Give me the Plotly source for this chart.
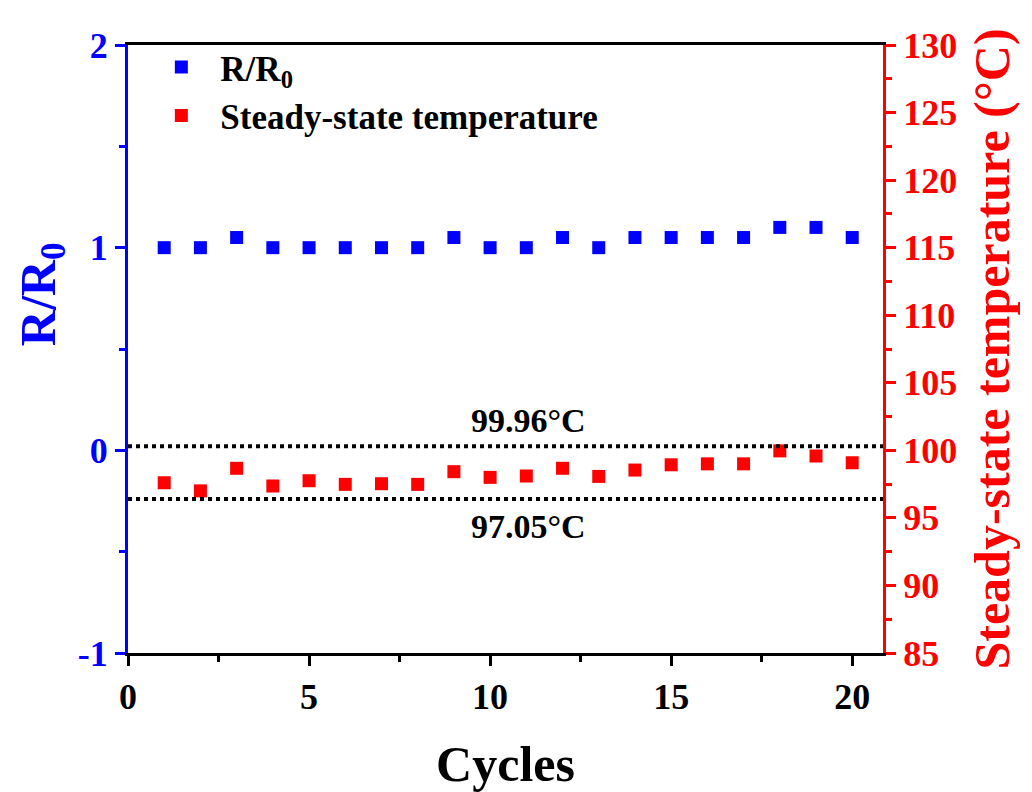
import plotly.graph_objects as go

cycles = list(range(1, 21))
r_ratio = [1.0, 1.0, 1.05, 1.0, 1.0, 1.0, 1.0, 1.0, 1.05, 1.0,
           1.0, 1.05, 1.0, 1.05, 1.05, 1.05, 1.05, 1.1, 1.1, 1.05]
temperature = [97.6, 97.0, 98.67, 97.36, 97.75, 97.48, 97.53, 97.48, 98.42, 98.0,
               98.1, 98.67, 98.07, 98.54, 98.93, 99.0, 99.0, 99.96, 99.58, 99.08]
line_levels = [100.3, 96.4]
line_labels = ["99.96°C", "97.05°C"]
label_pos_y = [102.2, 94.4]
left_ticks = [-1, 0, 1, 2]
left_tick_text = ["-1", "0", "1", "2"]

FONT = "Liberation Serif"
BLUE = "#0000FF"
RED = "#FF0000"

fig = go.Figure()
fig.add_trace(go.Scatter(x=cycles, y=r_ratio, mode="markers", name="R/R<sub>0</sub>",
                         marker=dict(symbol="square", size=13, color=BLUE), yaxis="y"))
fig.add_trace(go.Scatter(x=cycles, y=temperature, mode="markers", name="Steady-state temperature",
                         marker=dict(symbol="square", size=13, color=RED), yaxis="y2"))

for lv in line_levels:
    fig.add_shape(type="line", xref="paper", x0=0, x1=1, yref="y2", y0=lv, y1=lv,
                  line=dict(color="black", width=4, dash="dot"))
for txt, ly in zip(line_labels, label_pos_y):
    fig.add_annotation(x=11.05, y=ly, xref="x", yref="y2", text=txt, showarrow=False,
                       font=dict(family=FONT, size=34, color="black", weight="bold"))

# left axis title placed as rotated text (offset upward as in the reference)
fig.add_annotation(xref="paper", yref="paper", x=-0.114, y=0.59, text="R/R<sub>0</sub>",
                   textangle=-90, showarrow=False, xanchor="center", yanchor="middle",
                   font=dict(family=FONT, size=50, color=BLUE, weight="bold"))

fig.update_layout(
    width=1032, height=792,
    margin=dict(l=120, r=157, t=37, b=147),
    plot_bgcolor="white", paper_bgcolor="white",
    showlegend=True,
    legend=dict(x=0.019, y=1.012, xanchor="left", yanchor="top", bgcolor="rgba(0,0,0,0)",
                font=dict(family=FONT, size=35, color="black", weight="bold"),
                itemwidth=68, tracegroupgap=0),
    xaxis=dict(range=[0, 20.85], dtick=5, tick0=0, showgrid=False, zeroline=False,
               showline=True, linecolor="black", linewidth=3, mirror=True,
               ticks="outside", ticklen=10, tickwidth=3, tickcolor="black",
               minor=dict(dtick=2.5, ticklen=6, tickwidth=3, ticks="outside", tickcolor="black"),
               tickfont=dict(family=FONT, size=36, color="black", weight="bold"),
               title=dict(text="Cycles", standoff=30,
                          font=dict(family=FONT, size=50, color="black", weight="bold"))),
    yaxis=dict(range=[-1, 2], tickvals=left_ticks, ticktext=left_tick_text,
               showgrid=False, zeroline=False,
               showline=True, linecolor=BLUE, linewidth=3,
               ticks="outside", ticklen=10, tickwidth=3, tickcolor=BLUE,
               minor=dict(dtick=0.5, ticklen=6, tickwidth=3, ticks="outside", tickcolor=BLUE),
               tickfont=dict(family=FONT, size=36, color=BLUE, weight="bold")),
    yaxis2=dict(range=[85, 130], dtick=5, overlaying="y", side="right", showgrid=False,
                zeroline=False, showline=True, linecolor=RED, linewidth=3,
                ticks="outside", ticklen=10, tickwidth=3, tickcolor=RED,
                minor=dict(dtick=2.5, ticklen=6, tickwidth=3, ticks="outside", tickcolor=RED),
                tickfont=dict(family=FONT, size=36, color=RED, weight="bold"),
                title=dict(text="Steady-state temperature (°C)", standoff=18,
                           font=dict(family=FONT, size=50, color=RED, weight="bold"))),
)

fig.write_html("out.html")
